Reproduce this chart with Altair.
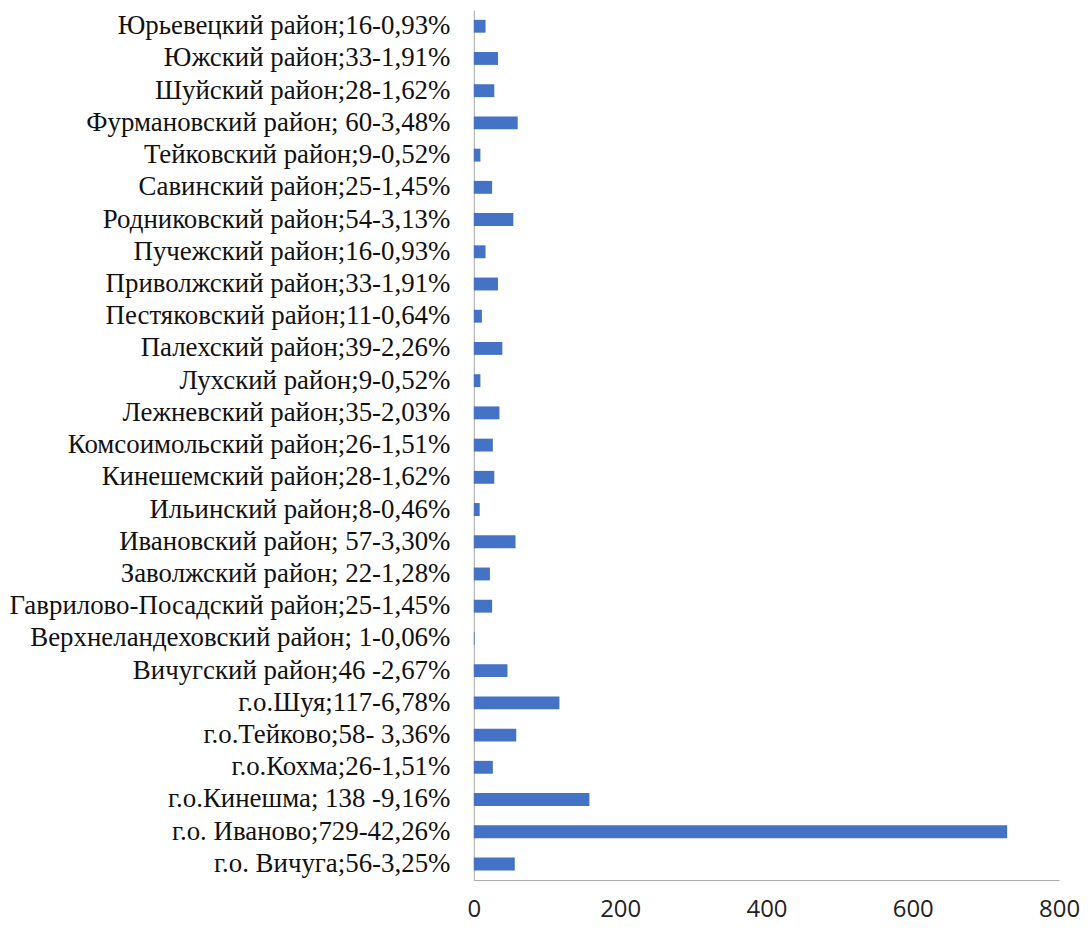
import altair as alt
import pandas as pd

categories = [
    "Юрьевецкий район;16-0,93%",
    "Южский район;33-1,91%",
    "Шуйский район;28-1,62%",
    "Фурмановский район; 60-3,48%",
    "Тейковский район;9-0,52%",
    "Савинский район;25-1,45%",
    "Родниковский район;54-3,13%",
    "Пучежский район;16-0,93%",
    "Приволжский  район;33-1,91%",
    "Пестяковский район;11-0,64%",
    "Палехский район;39-2,26%",
    "Лухский район;9-0,52%",
    "Лежневский район;35-2,03%",
    "Комсоимольский район;26-1,51%",
    "Кинешемский район;28-1,62%",
    "Ильинский район;8-0,46%",
    "Ивановский район; 57-3,30%",
    "Заволжский район; 22-1,28%",
    "Гаврилово-Посадский район;25-1,45%",
    "Верхнеландеховский район; 1-0,06%",
    "Вичугский район;46 -2,67%",
    "г.о.Шуя;117-6,78%",
    "г.о.Тейково;58- 3,36%",
    "г.о.Кохма;26-1,51%",
    "г.о.Кинешма; 138 -9,16%",
    "г.о. Иваново;729-42,26%",
    "г.о. Вичуга;56-3,25%",
]
values = [16, 33, 28, 60, 9, 25, 54, 16, 33, 11, 39, 9, 35, 26, 28, 8, 57, 22,
          25, 1, 46, 117, 58, 26, 158, 729, 56]
x_ticks = [0, 200, 400, 600, 800]

df = pd.DataFrame({"category": categories, "value": values})

chart = alt.Chart(df).mark_bar(color="#4472C4").encode(
    x=alt.X("value:Q",
            scale=alt.Scale(domain=[0, 800], nice=False),
            axis=alt.Axis(values=x_ticks, title=None, grid=False, ticks=False,
                          domainColor="#A6A6A6", labelFont="Open Sans",
                          labelFontSize=24, labelColor="#222222", labelPadding=18,
                          labelBaseline="top", labelFlush=False)),
    y=alt.Y("category:N", sort=categories,
            scale=alt.Scale(paddingInner=0.6, paddingOuter=0.3),
            axis=alt.Axis(title=None, ticks=False, domainColor="#A6A6A6",
                          labelFont="Liberation Serif", labelFontSize=27,
                          labelColor="#111111", labelPadding=24, labelLimit=600,
                          minExtent=463, maxExtent=463)),
).properties(
    width=588, height=874,
    padding={"left": 0, "top": 0, "right": 0, "bottom": 0},
).configure_view(stroke=None)

chart.save("out.html", embed_options={"renderer": "svg", "actions": False})
